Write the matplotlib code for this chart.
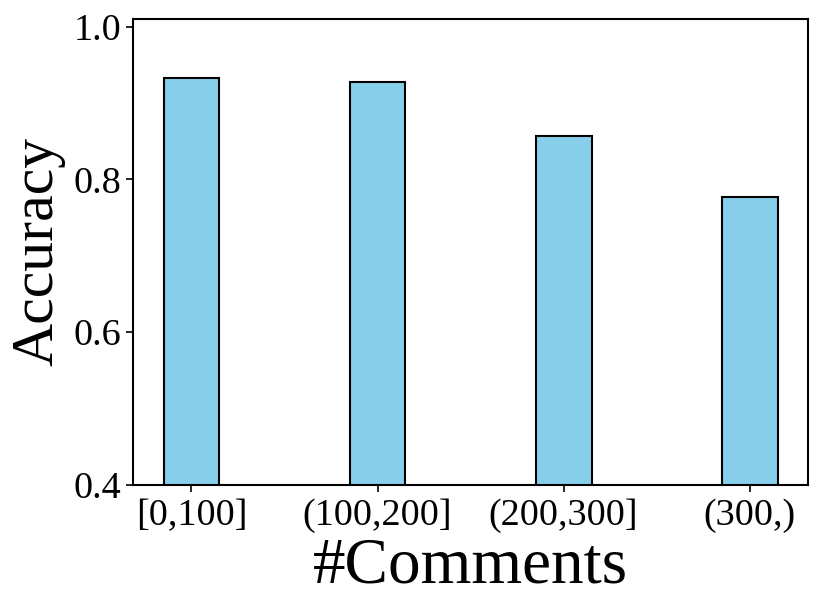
import matplotlib.pyplot as plt
import numpy as np

plt.rcParams['font.family'] = ['Liberation Serif', 'DejaVu Serif']

categories = ["[0,100]", "(100,200]", "(200,300]", "(300,)"]
accuracy = [0.933, 0.928, 0.857, 0.777]

fig = plt.figure(figsize=(8.3, 5.97), dpi=100)
ax = fig.add_axes([0.160, 0.188, 0.814, 0.780])

x = np.arange(len(categories))
ax.bar(x, accuracy, width=0.3, color='skyblue', edgecolor='black', linewidth=1.5)

ax.set_ylim(0.4, 1.01)
ax.set_yticks([0.4, 0.6, 0.8, 1.0])
ax.set_xticks(x)
ax.set_xticklabels(categories)
ax.tick_params(axis='both', labelsize=27.5, width=1.2, length=5)
ax.tick_params(axis='x', pad=5)
ax.tick_params(axis='y', pad=3)
for s in ax.spines.values():
    s.set_linewidth(1.5)

ax.set_xlabel("#Comments", fontsize=47, labelpad=3)
ax.set_ylabel("Accuracy", fontsize=43, labelpad=6)

fig.savefig("out.png", dpi=100)
